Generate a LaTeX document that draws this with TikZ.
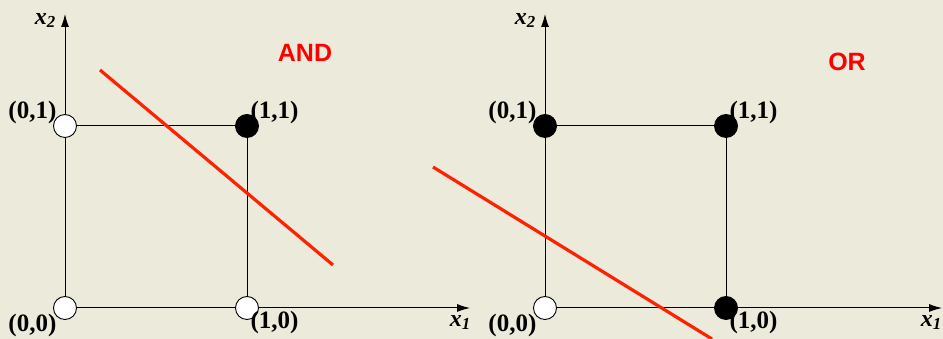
\documentclass[tikz,border=0pt]{standalone}
\usepackage{fontspec}
\setmainfont{Liberation Serif}
\newfontfamily\gatefont{Liberation Sans}
\usetikzlibrary{positioning,arrows.meta}
\definecolor{paperBeige}{HTML}{ECEADB}
\definecolor{cutRed}{HTML}{FF2200}
\definecolor{titleRed}{HTML}{FF0000}
\tikzset{
    openpt/.style={circle,draw=black,fill=white,minimum size=23pt,
        inner sep=0pt,line width=0.9pt},
    fullpt/.style={circle,draw=black,fill=black,minimum size=23pt,
        inner sep=0pt,line width=0.9pt},
    axis/.style={-{Latex[length=13pt,width=8pt]},line width=1pt},
    edge/.style={draw=black,line width=1pt},
    cutline/.style={draw=cutRed,line width=3.2pt},
    ptlabel/.style={font=\bfseries\fontsize{25}{25}\selectfont,inner sep=0pt},
    axlabel/.style={font=\bfseries\itshape\fontsize{24}{24}\selectfont,inner sep=0pt},
    gatename/.style={font=\gatefont\bfseries\fontsize{25}{25}\selectfont,
        text=titleRed,inner sep=0pt}
}

\begin{document}
\begin{tikzpicture}[x=1pt,y=1pt]
    \fill[paperBeige] (0,0) rectangle (943,339);
    \useasboundingbox (0,0) rectangle (943,339);

    % AND plot
    \coordinate (oA) at (65,31);
    \coordinate (yA) at (65,325);
    \coordinate (xA) at (470,31);
    \draw[axis] (oA) -- (yA);
    \draw[axis] (oA) -- (xA);
    \node[openpt] (a00) at (65,31) {};
    \node[openpt] (a01) at (65,213) {};
    \node[fullpt] (a11) at (247,213) {};
    \node[openpt] (a10) at (247,31) {};
    \draw[edge] (a01) -- (a11);
    \draw[edge] (a11) -- (a10);
    \node[ptlabel] (la01) [above left=-6pt and 0pt of a01] {(0,1)};
    \node[ptlabel] (la11) [above right=-6pt and -5pt of a11] {(1,1)};
    \node[ptlabel] (la00) [below left=-2pt and 0pt of a00] {(0,0)};
    \node[ptlabel] (la10) [below right=-5pt and -5pt of a10] {(1,0)};
    \node[axlabel] (lxA2) [below left=-1pt and 9pt of yA] {x\textsubscript{2}};
    \node[axlabel] (lxA1) [below left=7pt and -1pt of xA] {x\textsubscript{1}};
    \node[gatename] (tAND) at (305,286) {AND};
    \coordinate (cutA1) at (100,269);
    \coordinate (cutA2) at (333,74);
    \draw[cutline] (cutA1) -- (cutA2);

    % OR plot
    \coordinate (oB) at (545,31);
    \coordinate (yB) at (545,325);
    \coordinate (xB) at (942,31);
    \draw[axis] (oB) -- (yB);
    \draw[axis] (oB) -- (xB);
    \node[openpt] (b00) at (545,31) {};
    \node[fullpt] (b01) at (545,213) {};
    \node[fullpt] (b11) at (726,213) {};
    \node[fullpt] (b10) at (726,31) {};
    \draw[edge] (b01) -- (b11);
    \draw[edge] (b11) -- (b10);
    \node[ptlabel] (lb01) [above left=-6pt and 0pt of b01] {(0,1)};
    \node[ptlabel] (lb11) [above right=-6pt and -5pt of b11] {(1,1)};
    \node[ptlabel] (lb00) [below left=-2pt and 0pt of b00] {(0,0)};
    \node[ptlabel] (lb10) [below right=-5pt and -5pt of b10] {(1,0)};
    \node[axlabel] (lxB2) [below left=-1pt and 9pt of yB] {x\textsubscript{2}};
    \node[axlabel] (lxB1) [below left=7pt and 0pt of xB] {x\textsubscript{1}};
    \node[gatename] (tOR) at (847,277) {OR};
    \coordinate (cutB1) at (433,172);
    \coordinate (cutB2) at (712,0);
    \draw[cutline] (cutB1) -- (cutB2);
\end{tikzpicture}
\end{document}
